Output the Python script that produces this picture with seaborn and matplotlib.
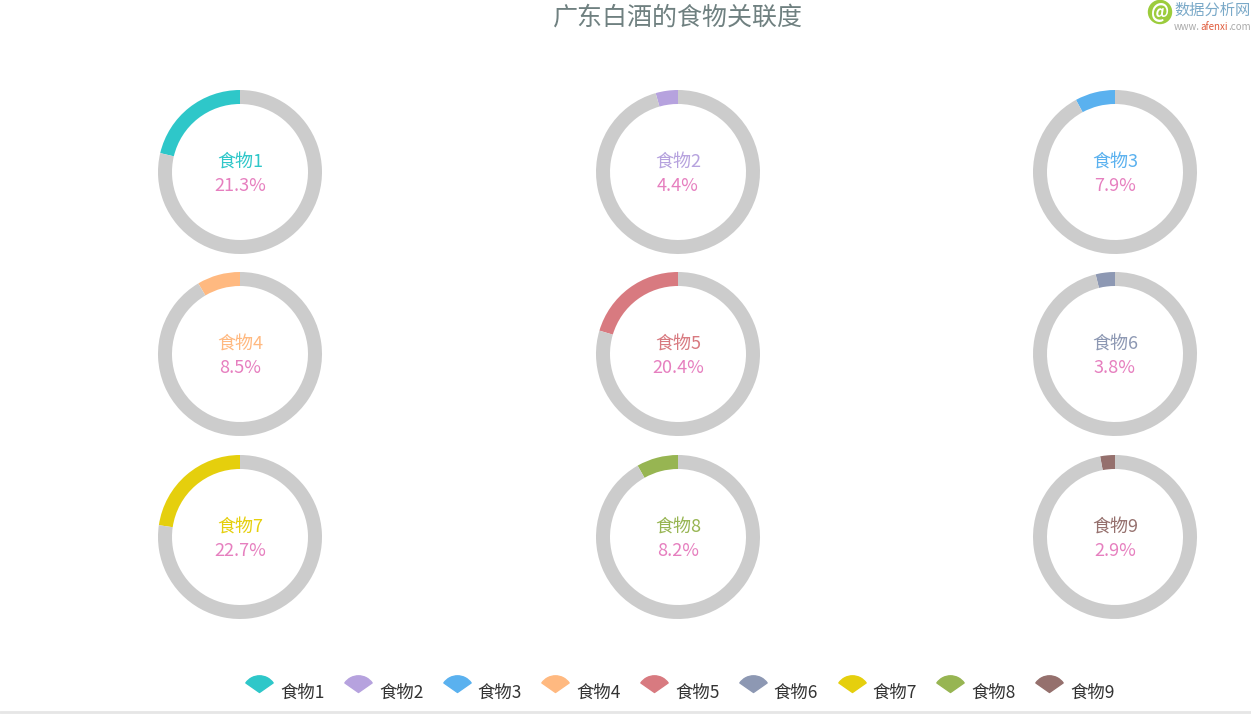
import matplotlib
matplotlib.use("Agg")
import matplotlib.pyplot as plt
import matplotlib.path as mpath
from matplotlib.lines import Line2D
import seaborn as sns

sns.set_theme(style="white")
plt.rcParams['font.family'] = ['Noto Sans CJK SC', 'DejaVu Sans']

# data
foods = ['食物1', '食物2', '食物3', '食物4', '食物5', '食物6', '食物7', '食物8', '食物9']
shares = [21.3, 4.4, 7.9, 8.5, 20.4, 3.8, 22.7, 8.2, 2.9]
colors = ['#2ec7c9', '#b6a2de', '#5ab1ef', '#ffb980', '#d87a80',
          '#8d98b3', '#e5cf0d', '#97b552', '#95706d']

W, H = 1251, 717
fig = plt.figure(figsize=(W / 100, H / 100), dpi=100)

# grid of donut centres (pixels)
col_x = [240, 678, 1115]
row_y = [172, 354, 537]
half = 88  # axes half-size in px
outer = 82

for i, (name, p, c) in enumerate(zip(foods, shares, colors)):
    cx = col_x[i % 3]
    cy = row_y[i // 3]
    ax = fig.add_axes([(cx - half) / W, 1 - (cy + half) / H, 2 * half / W, 2 * half / H])
    ax.pie([p, 100 - p], colors=[c, '#cccccc'], startangle=90, counterclock=True,
           radius=1, wedgeprops=dict(width=14 / outer, linewidth=0))
    lim = half / outer
    ax.set_xlim(-lim, lim)
    ax.set_ylim(-lim, lim)
    ax.set_aspect('equal')
    ax.axis('off')
    ax.text(0, 0.13, name, color=c, ha='center', va='center', fontsize=13, fontweight='medium')
    ax.text(0, -0.17, f'{p}%', color='#e67fbf', ha='center', va='center', fontsize=13)

fig.text(678 / W, 1 - 18 / H, '广东白酒的食物关联度', ha='center', va='center',
         fontsize=18, color='#6f8080')

# legend with fan shaped icons
fan = mpath.Path.wedge(35, 145)
handles = [Line2D([], [], linestyle='none', marker=fan, markersize=24,
                  markerfacecolor=c, markeredgecolor=c) for c in colors]
fig.legend(handles, foods, loc='center', bbox_to_anchor=(679 / W, 1 - 693 / H),
           ncol=9, frameon=False, fontsize=12.5, handlelength=1.8, handletextpad=0.3,
           columnspacing=1.03, labelcolor='#333333')

# watermark
fig.text(1160 / W, 1 - 12 / H, '@', ha='center', va='center', fontsize=13, color='white',
         fontweight='bold',
         bbox=dict(boxstyle='circle,pad=0.15', fc='#9ccc3c', ec='none'))
fig.text(1174 / W, 1 - 10 / H, '数据分析网', ha='left', va='center', fontsize=11, color='#7aa9c8')
renderer = fig.canvas.get_renderer()
x = 1174
for part, pc in [('www.', '#aaaaaa'), ('afenxi', '#e05a3a'), ('.com', '#aaaaaa')]:
    t = fig.text(x / W, 1 - 27 / H, part, ha='left', va='center', fontsize=7, color=pc)
    x = t.get_window_extent(renderer).x1 + 0.5

fig.add_artist(Line2D([0, 1], [1 - 712 / H, 1 - 712 / H], color='#e6e6e6', linewidth=2))

fig.savefig('out.png', dpi=100)
